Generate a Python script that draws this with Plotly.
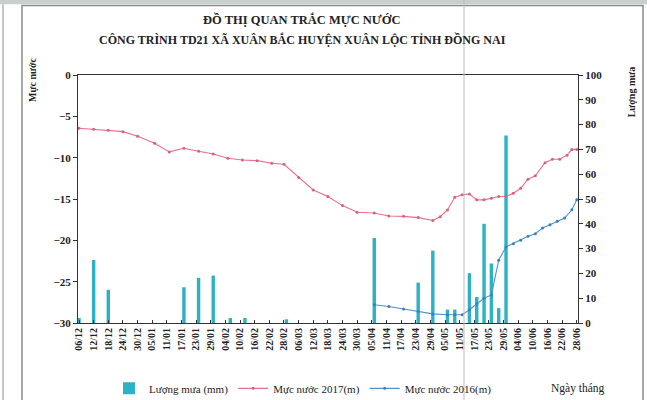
import pandas as pd
import plotly.graph_objects as go

# Observation start date; series are given as day offsets from it
start_date = "2016-12-06"

# Rainfall (mm) - right axis
rain_day = [0, 6, 12, 43, 49, 55, 62, 68, 85,
            121, 139, 145, 151, 154, 160, 163, 166, 169, 172, 175]
rain_mm = [2, 25.4, 13.4, 14.4, 18.2, 19.1, 2, 2, 1.5,
           34.3, 16.3, 29.2, 5.4, 5.4, 20.1, 10.5, 40.0, 24.0, 6.0, 75.6]

# Water level 2017 (m) - left axis
lv17_day = [0, 6, 12, 18, 24, 31, 37, 43, 49, 55, 61, 67, 73, 79, 84, 90, 96,
            102, 108, 114, 121, 127, 133, 139, 145, 148, 151, 154, 157, 160,
            163, 166, 169, 172, 175, 178, 181, 184, 187, 191, 194, 197, 200,
            202, 204]
lv17_m = [-6.45, -6.57, -6.69, -6.85, -7.4, -8.26, -9.3, -8.87, -9.23, -9.55,
          -10.08, -10.28, -10.36, -10.68, -10.8, -12.4, -13.9, -14.7, -15.8,
          -16.6, -16.7, -17.05, -17.1, -17.25, -17.6, -17.15, -16.33, -14.8,
          -14.5, -14.4, -15.1, -15.1, -14.9, -14.7, -14.7, -14.3, -13.7,
          -12.6, -12.2, -10.6, -10.2, -10.2, -9.7, -9.0, -9.0]

# Water level 2016 (m) - left axis
lv16_day = [121, 127, 133, 139, 145, 151, 154, 157, 160, 163, 166, 169, 172,
            175, 178, 181, 184, 187, 190, 193, 196, 199, 202, 204]
lv16_m = [-27.8, -28.0, -28.3, -28.6, -28.9, -29.0, -29.0, -29.0, -28.4,
          -27.7, -27.0, -26.6, -22.4, -20.8, -20.4, -20.0, -19.5, -19.2,
          -18.5, -18.1, -17.7, -17.3, -16.3, -15.1]

t0 = pd.Timestamp(start_date)
to_dates = lambda days: [t0 + pd.Timedelta(days=d) for d in days]
DAY_MS = 86400000

SERIF = "Liberation Serif"
INK = "#222"
fig = go.Figure()

fig.add_trace(go.Bar(
    x=to_dates(rain_day), y=rain_mm, name="Lượng mưa (mm)",
    width=1.4 * DAY_MS, marker=dict(color="#2db2c4", line=dict(width=0)),
    yaxis="y"))
fig.add_trace(go.Scatter(
    x=to_dates(lv17_day), y=lv17_m, name="Mực nước 2017(m)",
    mode="lines+markers", line=dict(color="#e8708c", width=1.1),
    marker=dict(size=3, color="#d9607e"), yaxis="y2"))
fig.add_trace(go.Scatter(
    x=to_dates(lv16_day), y=lv16_m, name="Mực nước 2016(m)",
    mode="lines+markers", line=dict(color="#4f92cc", width=1.1),
    marker=dict(size=3, color="#3c7fbf"), yaxis="y2"))

tickfont = dict(family=SERIF, size=11, color=INK, weight="bold")

fig.update_layout(
    width=647, height=400,
    margin=dict(l=78, r=69, t=75, b=77, autoexpand=False),
    paper_bgcolor="white", plot_bgcolor="white",
    showlegend=True,
    xaxis=dict(
        type="date", range=["2016-12-05 14:00", "2017-06-28 12:00"],
        tick0=start_date, dtick=6 * DAY_MS, tickformat="%d/%m",
        tickangle=-90, tickfont=dict(family=SERIF, size=10, color=INK, weight="bold"),
        ticks="inside", ticklen=3, tickcolor="#333", automargin=False,
        showline=True, linecolor="#333", linewidth=1, mirror=True,
        showgrid=False, zeroline=False),
    yaxis=dict(
        side="right", range=[0, 100], dtick=10, automargin=False,
        tickfont=tickfont, ticks="outside", ticklen=4, tickcolor="#333",
        showline=True, linecolor="#333", linewidth=1,
        showgrid=False, zeroline=False),
    yaxis2=dict(
        side="left", overlaying="y", range=[-30, 0], dtick=5, automargin=False,
        tickfont=tickfont, ticks="outside", ticklen=4, tickcolor="#333",
        showline=True, linecolor="#333", linewidth=1,
        showgrid=False, zeroline=False),
    legend=dict(
        orientation="h", x=0.062, xanchor="left", y=-0.205, yanchor="top",
        font=dict(family=SERIF, size=11, color=INK),
        itemwidth=30, bgcolor="rgba(0,0,0,0)"),
)

# Two-line heading
fig.add_annotation(text="ĐỒ THỊ QUAN TRẮC MỰC NƯỚC",
                   xref="paper", yref="paper", x=0.448, y=1.222,
                   xanchor="center", yanchor="middle", showarrow=False,
                   font=dict(family=SERIF, size=12.5, color=INK, weight="bold"))
fig.add_annotation(text="CÔNG TRÌNH TD21 XÃ XUÂN BẮC HUYỆN XUÂN LỘC TỈNH ĐỒNG NAI",
                   xref="paper", yref="paper", x=0.448, y=1.145,
                   xanchor="center", yanchor="middle", showarrow=False,
                   font=dict(family=SERIF, size=12, color=INK, weight="bold"))

# Axis captions
fig.add_annotation(text="Mực nước", xref="paper", yref="paper",
                   x=-0.09, y=0.98, xanchor="center", yanchor="middle",
                   textangle=-90, showarrow=False,
                   font=dict(family=SERIF, size=10, color=INK, weight="bold"))
fig.add_annotation(text="Lượng mưa", xref="paper", yref="paper",
                   x=1.106, y=0.93, xanchor="center", yanchor="middle",
                   textangle=-90, showarrow=False,
                   font=dict(family=SERIF, size=10, color=INK, weight="bold"))
fig.add_annotation(text="Ngày tháng", xref="paper", yref="paper",
                   x=1.0, y=-0.266, xanchor="center", yanchor="middle",
                   showarrow=False,
                   font=dict(family=SERIF, size=11.5, color=INK))

# Page frame around the chart
fig.add_shape(type="rect", xref="paper", yref="paper",
              x0=-0.112, x1=1.13, y0=-0.34, y1=1.28,
              line=dict(color="#8a8a8a", width=1.5), layer="below")
fig.add_shape(type="line", xref="paper", yref="paper",
              x0=-0.15, x1=-0.15, y0=-0.34, y1=1.31,
              line=dict(color="#b5b5b5", width=1.5), layer="below")
fig.add_shape(type="rect", xref="paper", yref="paper",
              x0=-0.16, x1=1.14, y0=1.285, y1=1.31,
              fillcolor="#c9d0c9", line=dict(width=0), layer="below")
fig.add_shape(type="line", xref="paper", yref="paper",
              x0=0.772, x1=0.772, y0=-0.34, y1=1.31,
              line=dict(color="#bcbcbc", width=1), layer="above")

fig.write_html("out.html")
